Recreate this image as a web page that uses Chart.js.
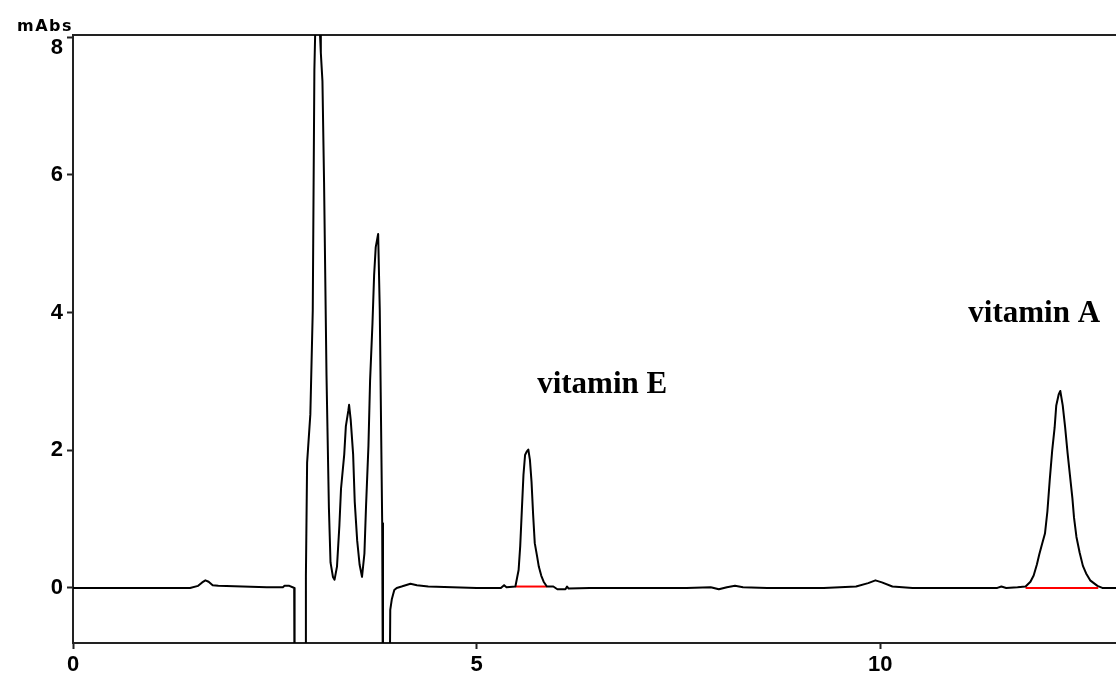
<!DOCTYPE html>
<html>
<head>
<meta charset="utf-8">
<script src="https://cdn.jsdelivr.net/npm/chart.js@4/dist/chart.umd.min.js"></script>
<style>
  html, body { margin: 0; padding: 0; background: #fff; }
  #wrap { width: 1116px; height: 677px; }
</style>
</head>
<body>
<div id="wrap"><canvas id="c" width="1116" height="677"></canvas></div>
<script>
// Chromatogram trace: retention time (min) and detector response (mAbs)
const retentionTimes = [
  0.00, 0.60, 1.20, 1.45, 1.55, 1.60, 1.64, 1.68, 1.73, 1.80, 2.10, 2.40, 2.60, 2.62, 2.68, 2.72, 2.74,
  2.745, 2.88, 2.885, 2.90, 2.94, 2.97, 2.99, 3.01, 3.04, 3.06, 3.07, 3.09, 3.11, 3.14, 3.17, 3.19,
  3.22, 3.24, 3.27, 3.30, 3.32, 3.36, 3.38, 3.41, 3.42, 3.44, 3.47, 3.49, 3.52, 3.55, 3.58, 3.61,
  3.63, 3.66, 3.68, 3.71, 3.73, 3.75, 3.78, 3.80, 3.83, 3.84, 3.92, 3.93, 3.95, 3.98, 4.01, 4.07,
  4.18, 4.26, 4.40, 4.70, 5.00, 5.30, 5.34, 5.37, 5.48, 5.50, 5.52, 5.54, 5.56, 5.58, 5.60, 5.62,
  5.64, 5.66, 5.68, 5.70, 5.72, 5.75, 5.77, 5.80, 5.83, 5.87, 5.95, 6.00, 6.10, 6.12, 6.14, 6.40,
  7.00, 7.60, 7.90, 8.00, 8.10, 8.20, 8.30, 8.60, 9.30, 9.70, 9.85, 9.94, 10.02, 10.15, 10.40, 11.00,
  11.45, 11.50, 11.56, 11.70, 11.80, 11.86, 11.90, 11.94, 11.97, 12.00, 12.04, 12.07, 12.10, 12.13,
  12.16, 12.18, 12.21, 12.23, 12.26, 12.29, 12.32, 12.35, 12.38, 12.40, 12.43, 12.47, 12.51, 12.55,
  12.60, 12.69, 12.75, 12.92
];
const absorbance = [
  0.00, 0.00, 0.00, 0.00, 0.03, 0.08, 0.11, 0.09, 0.04, 0.03, 0.02, 0.01, 0.01, 0.03, 0.03, 0.01, 0.00,
  -2.00, -2.00, 0.17, 1.82, 2.52, 4.03, 7.52, 8.60, 8.90, 8.03, 7.77, 7.36, 5.89, 3.10, 1.16, 0.37,
  0.16, 0.12, 0.31, 0.91, 1.44, 1.94, 2.35, 2.57, 2.66, 2.44, 1.94, 1.25, 0.69, 0.34, 0.16, 0.50,
  1.19, 2.07, 3.01, 3.85, 4.54, 4.95, 5.14, 4.04, 0.94, -2.00, -2.00, -0.32, -0.16, -0.03, 0.00, 0.02,
  0.06, 0.04, 0.02, 0.01, 0.00, 0.00, 0.04, 0.01, 0.02, 0.14, 0.26, 0.61, 1.13, 1.64, 1.93, 1.98,
  2.01, 1.86, 1.54, 1.06, 0.65, 0.45, 0.31, 0.18, 0.09, 0.02, 0.02, -0.02, -0.02, 0.02, -0.01, 0.00,
  0.00, 0.00, 0.01, -0.02, 0.01, 0.03, 0.01, 0.00, 0.00, 0.02, 0.07, 0.11, 0.08, 0.02, 0.00, 0.00,
  0.00, 0.02, 0.00, 0.01, 0.02, 0.09, 0.18, 0.34, 0.49, 0.62, 0.79, 1.11, 1.58, 2.00,
  2.33, 2.65, 2.81, 2.86, 2.65, 2.33, 1.96, 1.63, 1.30, 1.02, 0.74, 0.51, 0.32, 0.21,
  0.11, 0.03, 0.00, 0.00
];

// Integration baselines of the two identified peaks
const vitaminEBaseTimes = [5.48, 5.87];
const vitaminEBaseValues = [0.02, 0.02];
const vitaminABaseTimes = [11.80, 12.70];
const vitaminABaseValues = [0.00, 0.00];

// Axis ticks
const xTickValues = [0, 5, 10];
const yTickValues = [0, 2, 4, 6, 8];
const yUnit = 'mAbs';

const toPoints = (xs, ys) => xs.map((x, i) => ({ x: x, y: ys[i] }));

const axisColor = '#222';
const tickFont = { family: 'Liberation Sans', weight: 'bold', size: 22 };

// Peak names, anchored in data units
const peakNames = [
  { text: 'vitamin E', t: 5.75, v: 2.83 },
  { text: 'vitamin A', t: 11.09, v: 3.86 }
];

// The topmost y label sits below its tick so it clears the unit caption
const topLabelDrop = 11;

const textPlugin = {
  id: 'chromText',
  beforeDraw(chart) {
    try {
      const ys = chart.scales.y;
      const items = ys.getLabelItems(chart.chartArea);
      const top = items.find(it => String(it.label) === String(yTickValues[yTickValues.length - 1]));
      if (top && !top._dropped) {
        top.options.translation[1] += topLabelDrop;
        top._dropped = true;
      }
    } catch (e) { /* keep default placement */ }
  },
  afterDraw(chart) {
    const ctx = chart.ctx;
    const xs = chart.scales.x, ys = chart.scales.y;
    ctx.save();
    ctx.fillStyle = '#000';
    ctx.font = 'bold 31px "Liberation Serif"';
    ctx.textAlign = 'left';
    ctx.textBaseline = 'alphabetic';
    peakNames.forEach(p => {
      ctx.fillText(p.text, xs.getPixelForValue(p.t), ys.getPixelForValue(p.v));
    });
    ctx.font = 'bold 16px "DejaVu Sans"';
    ctx.letterSpacing = '1.5px';
    ctx.textAlign = 'right';
    ctx.fillText(yUnit, chart.chartArea.left, chart.chartArea.top - 4);
    ctx.restore();
  }
};

new Chart(document.getElementById('c'), {
  type: 'line',
  data: {
    datasets: [
      {
        data: toPoints(retentionTimes, absorbance),
        borderColor: '#000',
        borderWidth: 2,
        borderJoinStyle: 'round',
        pointRadius: 0,
        tension: 0,
        fill: false
      },
      {
        data: toPoints(vitaminEBaseTimes, vitaminEBaseValues),
        borderColor: '#ff0000',
        borderWidth: 2,
        pointRadius: 0,
        fill: false
      },
      {
        data: toPoints(vitaminABaseTimes, vitaminABaseValues),
        borderColor: '#ff0000',
        borderWidth: 2,
        pointRadius: 0,
        fill: false
      }
    ]
  },
  options: {
    responsive: false,
    animation: false,
    devicePixelRatio: 1,
    layout: { padding: 0 },
    plugins: { legend: { display: false }, tooltip: { enabled: false }, title: { display: false } },
    scales: {
      x: {
        type: 'linear',
        position: 'bottom',
        min: 0,
        max: 12.92,
        afterBuildTicks: s => { s.ticks = xTickValues.map(v => ({ value: v })); },
        afterFit: s => { s.height = 34; },
        grid: { drawOnChartArea: false, drawTicks: true, tickLength: 6, tickWidth: 2, tickColor: axisColor },
        border: { display: true, color: axisColor, width: 2 },
        ticks: { font: tickFont, color: '#000', padding: 3, maxRotation: 0, autoSkip: false }
      },
      xTop: {
        type: 'linear',
        position: 'top',
        min: 0,
        max: 12.92,
        afterFit: s => { s.height = 35; },
        grid: { drawOnChartArea: false, drawTicks: false },
        border: { display: true, color: axisColor, width: 2 },
        ticks: { display: false }
      },
      y: {
        type: 'linear',
        position: 'left',
        min: -0.80,
        max: 8.03,
        afterBuildTicks: s => { s.ticks = yTickValues.map(v => ({ value: v })); },
        afterFit: s => { s.width = 73; },
        grid: { drawOnChartArea: false, drawTicks: true, tickLength: 6, tickWidth: 2, tickColor: axisColor },
        border: { display: true, color: axisColor, width: 2 },
        ticks: { font: tickFont, color: '#000', padding: 4, autoSkip: false }
      }
    }
  },
  plugins: [textPlugin]
});
</script>
</body>
</html>
